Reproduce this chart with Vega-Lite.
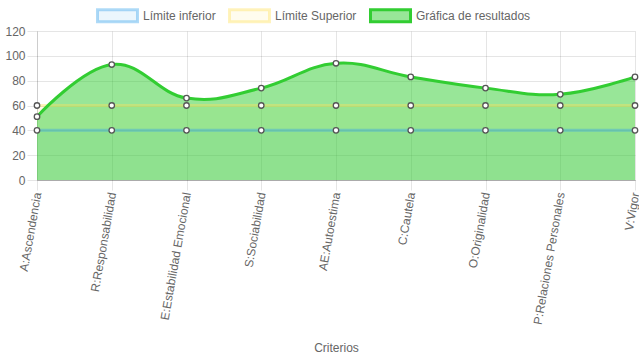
{
  "$schema": "https://vega.github.io/schema/vega-lite/v6.json",
  "width": 598,
  "height": 149,
  "autosize": {"type": "none"},
  "padding": {"left": 37, "top": 31, "right": 4, "bottom": 180},
  "background": "white",
  "config": {
    "view": {"stroke": null},
    "font": "Liberation Sans"
  },
  "data": {
    "values": [
      {"criterio": "A:Ascendencia", "serie": "Límite inferior", "valor": 40},
      {"criterio": "R:Responsabilidad", "serie": "Límite inferior", "valor": 40},
      {"criterio": "E:Estabilidad Emocional", "serie": "Límite inferior", "valor": 40},
      {"criterio": "S:Sociabilidad", "serie": "Límite inferior", "valor": 40},
      {"criterio": "AE:Autoestima", "serie": "Límite inferior", "valor": 40},
      {"criterio": "C:Cautela", "serie": "Límite inferior", "valor": 40},
      {"criterio": "O:Originalidad", "serie": "Límite inferior", "valor": 40},
      {"criterio": "P:Relaciones Personales", "serie": "Límite inferior", "valor": 40},
      {"criterio": "V:Vigor", "serie": "Límite inferior", "valor": 40},
      {"criterio": "A:Ascendencia", "serie": "Límite Superior", "valor": 60},
      {"criterio": "R:Responsabilidad", "serie": "Límite Superior", "valor": 60},
      {"criterio": "E:Estabilidad Emocional", "serie": "Límite Superior", "valor": 60},
      {"criterio": "S:Sociabilidad", "serie": "Límite Superior", "valor": 60},
      {"criterio": "AE:Autoestima", "serie": "Límite Superior", "valor": 60},
      {"criterio": "C:Cautela", "serie": "Límite Superior", "valor": 60},
      {"criterio": "O:Originalidad", "serie": "Límite Superior", "valor": 60},
      {"criterio": "P:Relaciones Personales", "serie": "Límite Superior", "valor": 60},
      {"criterio": "V:Vigor", "serie": "Límite Superior", "valor": 60},
      {"criterio": "A:Ascendencia", "serie": "Gráfica de resultados", "valor": 51},
      {"criterio": "R:Responsabilidad", "serie": "Gráfica de resultados", "valor": 93},
      {"criterio": "E:Estabilidad Emocional", "serie": "Gráfica de resultados", "valor": 66},
      {"criterio": "S:Sociabilidad", "serie": "Gráfica de resultados", "valor": 74},
      {"criterio": "AE:Autoestima", "serie": "Gráfica de resultados", "valor": 94},
      {"criterio": "C:Cautela", "serie": "Gráfica de resultados", "valor": 83},
      {"criterio": "O:Originalidad", "serie": "Gráfica de resultados", "valor": 74},
      {"criterio": "P:Relaciones Personales", "serie": "Gráfica de resultados", "valor": 69},
      {"criterio": "V:Vigor", "serie": "Gráfica de resultados", "valor": 83}
    ]
  },
  "encoding": {
    "x": {
      "field": "criterio",
      "type": "nominal",
      "sort": null,
      "scale": {"type": "point", "padding": 0},
      "axis": {
        "title": "Criterios",
        "titleColor": "#666",
        "titleFontSize": 12,
        "titleFontWeight": "normal",
        "titlePadding": 17,
        "labelAngle": -80,
        "labelAlign": "right",
        "labelBaseline": "middle",
        "labelColor": "#666",
        "labelFontSize": 12,
        "labelPadding": 2,
        "tickSize": 10,
        "tickColor": "rgba(0,0,0,0.1)",
        "grid": true,
        "gridColor": "rgba(0,0,0,0.1)",
        "domainColor": "rgba(0,0,0,0.25)"
      }
    },
    "y": {
      "field": "valor",
      "type": "quantitative",
      "stack": null,
      "scale": {"domain": [0, 120], "nice": false},
      "axis": {
        "title": null,
        "values": [0, 20, 40, 60, 80, 100, 120],
        "labelColor": "#666",
        "labelFontSize": 12,
        "labelPadding": 2,
        "tickSize": 10,
        "tickColor": "rgba(0,0,0,0.1)",
        "grid": true,
        "gridColor": "rgba(0,0,0,0.1)",
        "domainColor": "rgba(0,0,0,0.1)"
      }
    }
  },
  "layer": [
    {
      "mark": {"type": "area", "interpolate": "cardinal", "tension": -0.2},
      "encoding": {
        "fill": {
          "field": "serie",
          "type": "nominal",
          "scale": {
            "domain": ["Límite inferior", "Límite Superior", "Gráfica de resultados"],
            "range": ["rgba(54,162,235,0.1)", "rgba(255,225,90,0.1)", "rgba(50,205,50,0.5)"]
          },
          "legend": {
            "title": null,
            "orient": "none",
            "direction": "horizontal",
            "legendX": 59,
            "legendY": -37,
            "symbolType": "M-1,-0.3H1V0.3H-1Z",
            "symbolSize": 1600,
            "symbolStrokeWidth": 3,
            "symbolOpacity": 1,
            "labelFontSize": 12,
            "labelColor": "#666",
            "labelOffset": 4,
            "columnPadding": 7
          }
        },
        "order": {"field": "serie", "sort": "descending"}
      }
    },
    {
      "mark": {"type": "line", "interpolate": "cardinal", "tension": -0.2, "strokeWidth": 3},
      "encoding": {
        "stroke": {
          "field": "serie",
          "type": "nominal",
          "scale": {
            "domain": ["Límite inferior", "Límite Superior", "Gráfica de resultados"],
            "range": ["rgba(54,162,235,0.4)", "rgba(255,225,90,0.4)", "rgb(50,205,50)"]
          },
          "legend": {
            "title": null,
            "orient": "none",
            "direction": "horizontal",
            "legendX": 59,
            "legendY": -37,
            "symbolType": "M-1,-0.3H1V0.3H-1Z",
            "symbolSize": 1600,
            "symbolStrokeWidth": 3,
            "symbolOpacity": 1,
            "labelFontSize": 12,
            "labelColor": "#666",
            "labelOffset": 4,
            "columnPadding": 7
          }
        }
      }
    },
    {
      "mark": {"type": "point", "filled": true, "fill": "white", "stroke": "#555", "strokeWidth": 1.3, "size": 30, "opacity": 1},
      "encoding": {}
    }
  ]
}
